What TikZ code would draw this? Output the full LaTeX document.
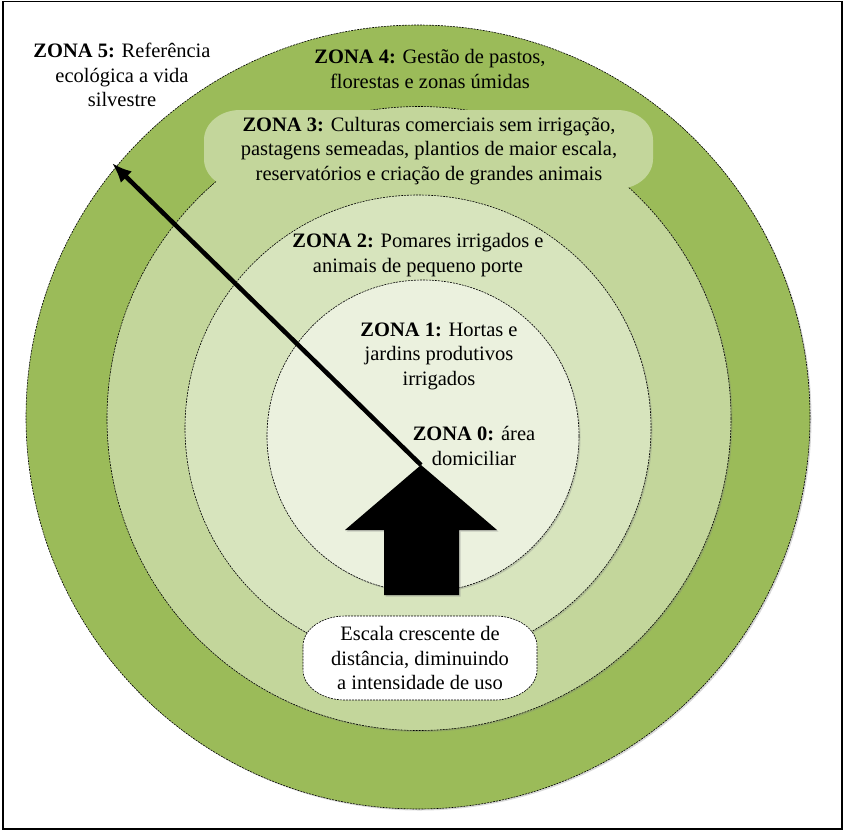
\documentclass[tikz,border=0pt]{standalone}
\usepackage{fontspec}
\setmainfont{Liberation Serif}
\usepackage{xcolor}
\usepackage{tikz}
\usetikzlibrary{shapes,arrows,positioning,calc,shadows,arrows.meta}

\definecolor{verde4}{HTML}{9BBB59}
\definecolor{verde3}{HTML}{C3D69B}
\definecolor{verde2}{HTML}{D7E4BD}
\definecolor{verde1}{HTML}{EBF1DE}

\begin{document}
\begin{tikzpicture}[x=1pt, y=-1pt,
    ring/.style={draw=black, line width=0.6pt, dash pattern=on 2pt off 1pt,
        drop shadow={shadow xshift=1.5pt, shadow yshift=-1.5pt, opacity=0.3}},
    zonetext/.style={align=center, inner sep=0pt,
        font=\fontsize{20.5}{24.5}\selectfont}]
    \useasboundingbox (0,0) rectangle (846,831);
    \draw[line width=1.2pt] (3,1.5) rectangle (842,829);

    % zonas
    \path[ring, fill=verde4] (418,417) circle (392pt);
    \path[ring, fill=verde3] (419,418.5) circle (312pt);
    \path[ring, fill=verde2] (418,428) circle (233pt);
    \path[ring, fill=verde1] (423,436) circle (156pt);

    % caixas
    \fill[verde3] (204,140) arc[start angle=180, end angle=90, x radius=36pt, y radius=30pt]
        -- (617,110) arc[start angle=90, end angle=0, x radius=36pt, y radius=30pt]
        -- (653,159) arc[start angle=0, end angle=-90, x radius=36pt, y radius=30pt]
        -- (240,189) arc[start angle=270, end angle=180, x radius=36pt, y radius=30pt] -- cycle;
    \draw[fill=white, line width=0.6pt, dash pattern=on 2pt off 1pt]
        (303,646) arc[start angle=180, end angle=90, x radius=42pt, y radius=30pt]
        -- (495,616) arc[start angle=90, end angle=0, x radius=42pt, y radius=30pt]
        -- (537,670) arc[start angle=0, end angle=-90, x radius=42pt, y radius=30pt]
        -- (345,700) arc[start angle=270, end angle=180, x radius=42pt, y radius=30pt] -- cycle;

    % casa e seta
    \coordinate (H) at (421,465);
    \coordinate (T) at (112,163);
    \draw[line width=4.5pt, -{Latex[length=20pt,width=16pt]}] (H) -- (T);
    \fill[black, drop shadow={shadow xshift=1.5pt, shadow yshift=-1.5pt, opacity=0.35}]
        (H) -- (497,530) -- (459,530) -- (459,595) -- (384,595) -- (384,530)
        -- (345,530) -- cycle;

    \node[zonetext] (Z5) at (122,75) {\textbf{ZONA 5:} Referência\\ ecológica a vida\\ silvestre};
    \node[zonetext] (Z4) at (430,69) {\textbf{ZONA 4:} Gestão de pastos,\\ florestas e zonas úmidas};
    \node[zonetext] (Z3) at (429,151)
        {\textbf{ZONA 3:} Culturas comerciais sem irrigação,\\
         pastagens semeadas, plantios de maior escala,\\
         reservatórios e criação de grandes animais};
    \node[zonetext] (Z2) at (418,255) {\textbf{ZONA 2:} Pomares irrigados e\\ animais de pequeno porte};
    \node[zonetext] (Z1) at (439,356) {\textbf{ZONA 1:} Hortas e\\ jardins produtivos\\ irrigados};
    \node[zonetext] (Z0) at (474,446) {\textbf{ZONA 0:} área\\ domiciliar};
    \node[zonetext] (E) at (420,658) {Escala crescente de\\ distância, diminuindo\\ a intensidade de uso};
\end{tikzpicture}
\end{document}
